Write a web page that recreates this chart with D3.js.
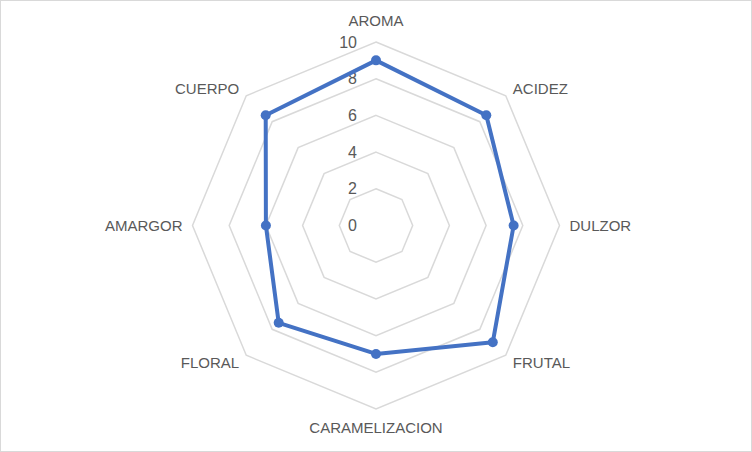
<!DOCTYPE html>
<html>
<head>
<meta charset="utf-8">
<script src="https://cdn.jsdelivr.net/npm/d3@7"></script>
<style>
  body { margin: 0; background: #fff; }
  svg { display: block; }
  text { font-family: "Liberation Sans", Arial, sans-serif; fill: #595959; }
</style>
</head>
<body>
<svg id="chart" width="752" height="452"></svg>
<script>
// categories and values
const categories = ["AROMA", "ACIDEZ", "DULZOR", "FRUTAL", "CARAMELIZACION", "FLORAL", "AMARGOR", "CUERPO"];
const scores = [9, 8.5, 7.5, 9, 7, 7.5, 6, 8.5];
const tickValues = [0, 2, 4, 6, 8, 10];

const width = 752, height = 452;
const cx = 376, cy = 225.5, radius = 183.5;

const svg = d3.select("#chart");

// chart frame
svg.append("rect")
  .attr("x", 0.5).attr("y", 0.5)
  .attr("width", width - 1).attr("height", height - 1)
  .attr("fill", "#fff")
  .attr("stroke", "#d9d9d9");

const g = svg.append("g").attr("transform", "translate(" + cx + "," + cy + ")");

const rScale = d3.scaleLinear().domain([0, 10]).range([0, radius]);
const angle = d3.scalePoint().domain(categories).range([0, 2 * Math.PI * (categories.length - 1) / categories.length]);

function pos(cat, r) {
  const a = angle(cat);
  return [r * Math.sin(a), -r * Math.cos(a)];
}

// ***** grid polygons *****
g.selectAll(".grid")
  .data(tickValues.filter(d => d > 0))
  .enter()
  .append("polygon")
  .attr("class", "grid")
  .attr("points", function(t) {
    return categories.map(c => pos(c, rScale(t)).join(",")).join(" ");
  })
  .attr("fill", "none")
  .attr("stroke", "#d9d9d9")
  .attr("stroke-width", 1.5);

// ***** tick labels *****
g.selectAll(".tick")
  .data(tickValues)
  .enter()
  .append("text")
  .attr("class", "tick")
  .attr("x", -19)
  .attr("y", d => -rScale(d))
  .attr("dy", "0.35em")
  .attr("text-anchor", "end")
  .style("font-size", "16px")
  .text(d => d);

// ***** category labels *****
g.selectAll(".cat")
  .data(categories)
  .enter()
  .append("text")
  .attr("class", "cat")
  .attr("x", function(c) {
    const a = angle(c), s = Math.sin(a);
    return Math.abs(s) < 0.01 ? 0 : (radius + 10) * s;
  })
  .attr("y", function(c) {
    const a = angle(c), co = Math.cos(a);
    if (co > 0.99) return -radius - 21;
    if (co < -0.99) return radius + 19;
    return -(radius + 10) * co;
  })
  .attr("dy", "0.35em")
  .attr("text-anchor", function(c) {
    const s = Math.sin(angle(c));
    return Math.abs(s) < 0.01 ? "middle" : (s > 0 ? "start" : "end");
  })
  .style("font-size", "15px")
  .text(c => c);

// ***** data line *****
const line = d3.lineRadial()
  .angle((d, i) => angle(categories[i]))
  .radius(d => rScale(d))
  .curve(d3.curveLinearClosed);

g.append("path")
  .datum(scores)
  .attr("d", line)
  .attr("fill", "none")
  .attr("stroke", "#4472c4")
  .attr("stroke-width", 4)
  .attr("stroke-linejoin", "round");

g.selectAll(".dot")
  .data(scores)
  .enter()
  .append("circle")
  .attr("class", "dot")
  .attr("cx", (d, i) => pos(categories[i], rScale(d))[0])
  .attr("cy", (d, i) => pos(categories[i], rScale(d))[1])
  .attr("r", 5)
  .attr("fill", "#4472c4");
</script>
</body>
</html>
